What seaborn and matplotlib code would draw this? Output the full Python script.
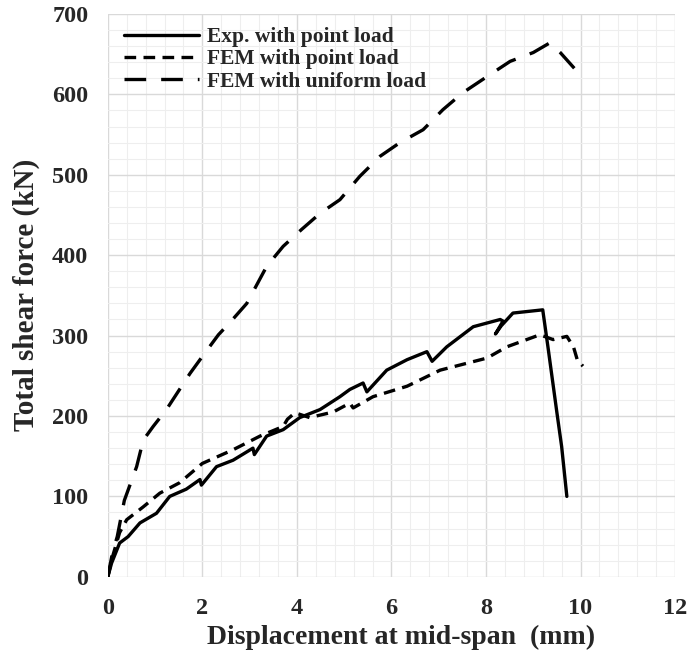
import matplotlib
matplotlib.use("Agg")
import matplotlib.pyplot as plt
import seaborn as sns
import numpy as np

# Exp. with point load (solid)
exp_x = [0, 0.08, 0.25, 0.43, 0.68, 1.03, 1.31, 1.66, 1.95, 1.98, 2.3, 2.65, 3.07, 3.1,
         3.36, 3.71, 4.06, 4.49, 4.91, 5.12, 5.4, 5.48, 5.9, 6.33, 6.75, 6.86, 7.17, 7.73,
         8.3, 8.36, 8.2, 8.32, 8.57, 9.2, 9.31, 9.5, 9.6, 9.71]
exp_y = [0, 17, 42, 50, 67, 79, 100, 109, 121, 114, 137, 145, 160, 152,
         175, 183, 198, 208, 224, 233, 241, 230, 257, 270, 280, 268, 286, 311,
         320, 318, 302, 312, 328, 332, 286, 204, 162, 100]

# FEM with point load (short dashes)
fem_pt_x = [0, 0.1, 0.25, 0.4, 0.75, 1.1, 1.52, 2.0, 2.65, 3.22, 3.71, 3.8, 3.96, 4.27,
            4.77, 5.12, 5.19, 5.61, 6.33, 7.03, 8.02, 8.44, 9.14, 9.42, 9.71, 9.85,
            9.93, 10.05]
fem_pt_y = [0, 25, 55, 71, 87, 104, 117, 141, 158, 175, 187, 196, 204, 198,
            205, 216, 210, 224, 237, 257, 272, 286, 301, 295, 299, 286,
            270, 262]

# FEM with uniform load (long dashes)
fem_un_x = [0, 0.1, 0.2, 0.35, 0.61, 0.75, 0.96, 1.24, 1.74, 2.0, 2.34, 2.58, 2.94,
            3.36, 3.71, 4.1, 4.49, 4.91, 5.33, 5.76, 6.18, 6.67, 7.09, 7.51, 8.02,
            8.51, 9.0, 9.35, 9.57, 9.95]
fem_un_y = [0, 30, 50, 95, 137, 170, 187, 208, 253, 274, 301, 316, 340,
            386, 411, 432, 452, 469, 498, 523, 540, 556, 581, 602, 622,
            641, 652, 664, 652, 627]

sns.set_style("white")
plt.rcParams["font.family"] = ["Liberation Serif", "DejaVu Serif"]
plt.rcParams["font.weight"] = "bold"

fig = plt.figure(figsize=(6.91, 6.63), dpi=100)
ax = fig.add_axes([0.156, 0.13, 0.821, 0.849])

sns.lineplot(x=exp_x, y=exp_y, sort=False, estimator=None, ax=ax, color="black",
             linewidth=2.4, label="Exp. with point load")
sns.lineplot(x=fem_pt_x, y=fem_pt_y, sort=False, estimator=None, ax=ax, color="black",
             linewidth=2.4, label="FEM with point load")
sns.lineplot(x=fem_un_x, y=fem_un_y, sort=False, estimator=None, ax=ax, color="black",
             linewidth=2.4, label="FEM with uniform load")
ax.lines[1].set_dashes([3.5, 2.2])
ax.lines[2].set_dashes([6.5, 4.5])

ax.set_xlim(0, 12)
ax.set_ylim(0, 700)
ax.set_xticks(np.arange(0, 13, 2))
ax.set_yticks(np.arange(0, 701, 100))
ax.set_xticks(np.arange(0, 12.01, 0.4), minor=True)
ax.set_yticks(np.arange(0, 701, 20), minor=True)
ax.grid(True, which="major", color="#d9d9d9", linewidth=1.0)
ax.grid(True, which="minor", color="#eeeeee", linewidth=0.8)
ax.set_axisbelow(True)
for s in ax.spines.values():
    s.set_visible(False)
ax.tick_params(which="major", length=6, color="#d9d9d9", labelsize=17.5)
ax.tick_params(axis="y", pad=8)
ax.tick_params(axis="x", pad=9)
ax.tick_params(which="minor", length=0)
for lab in ax.get_xticklabels() + ax.get_yticklabels():
    lab.set_fontweight("bold")

ax.set_xlabel("Displacement at mid-span  (mm)", fontsize=20, fontweight="bold")
ax.set_ylabel("Total shear force (kN)", fontsize=21, fontweight="bold")
ax.xaxis.set_label_coords(0.517, -0.085)
ax.yaxis.set_label_coords(-0.12, 0.5)

leg = ax.legend(loc="upper left", frameon=False, fontsize=15.5, handlelength=3.5,
                handletextpad=0.37, borderaxespad=0.0, labelspacing=0.1,
                bbox_to_anchor=(0.013, 0.992))
for t in leg.get_texts():
    t.set_fontweight("bold")
leg.get_lines()[1].set_dashes([3.5, 2.2])
leg.get_lines()[2].set_dashes([6.5, 4.5])

fig.savefig("out.png", dpi=100)
